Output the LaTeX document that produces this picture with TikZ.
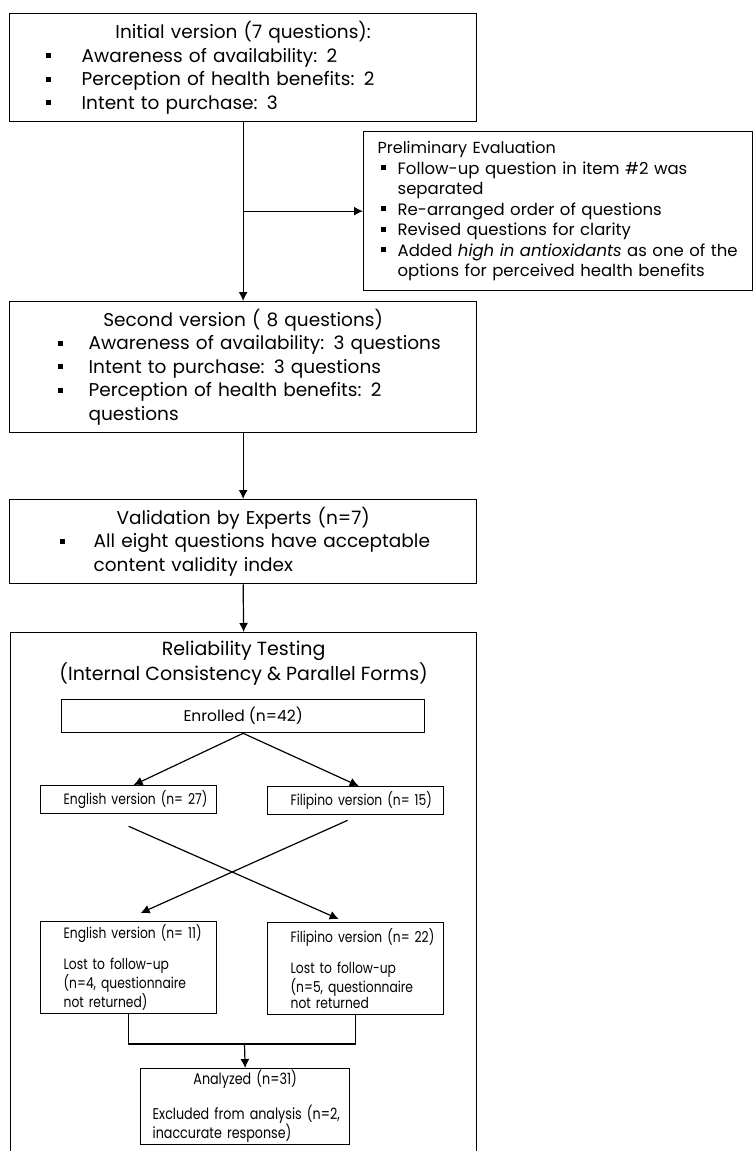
\documentclass[tikz,border=0pt]{standalone}
\usepackage{fontspec}
\setmainfont{Poppins}
\newfontfamily\narrowfont[FakeStretch=0.82]{Poppins}
\usetikzlibrary{arrows.meta}
\usetikzlibrary{positioning}

\newcommand{\sqb}{\rule[0.22em]{5pt}{5pt}}
\newcommand{\bul}[2]{\hspace*{#1}\makebox[#2][l]{\sqb}}

\begin{document}
\begin{tikzpicture}[%
      x=1pt, y=-1pt,
      every node/.style={inner sep=0pt},
      box/.style={draw, line width=1.3pt, rectangle, anchor=north west, align=left},
      mainbox/.style={box, text width=467pt, minimum width=467pt,
        font=\fontsize{18.5}{23.5}\selectfont},
      subbox/.style={box, text width=176pt, minimum width=176pt,
        font=\narrowfont\fontsize{15}{16}\selectfont},
      line width=1.2pt, >={Latex[length=9pt,width=9pt]}
    ]
    \useasboundingbox (0,0) rectangle (753,1151);

    % questionnaire versions
    \node [mainbox, minimum height=108pt] (init) at (9,13) {%
      \makebox[\hsize]{Initial version (7 questions):}\\
      \bul{36pt}{36pt}Awareness of availability: 2\\
      \bul{36pt}{36pt}Perception of health benefits: 2\\
      \bul{36pt}{36pt}Intent to purchase: 3};
    \node [box, text width=389pt, minimum width=389pt, minimum height=159pt,
      font=\fontsize{16.5}{20.5}\selectfont] (prelim) at (363,131) {%
      \hspace*{14pt}{\fontsize{16}{20.5}\selectfont Preliminary Evaluation}\\
      \bul{17pt}{17pt}Follow-up question in item \#2 was\\
      \hspace*{34pt}separated\\
      \bul{17pt}{17pt}Re-arranged order of questions\\
      \bul{17pt}{17pt}Revised questions for clarity\\
      \bul{17pt}{17pt}Added \textit{high in antioxidants} as one of the\\
      \hspace*{34pt}options for perceived health benefits};
    \node [mainbox, minimum height=131pt] (second) at (9,301) {%
      \makebox[\hsize]{Second version ( 8 questions)}\\
      \bul{48pt}{31pt}Awareness of availability: 3 questions\\
      \bul{48pt}{31pt}Intent to purchase: 3 questions\\
      \bul{48pt}{31pt}Perception of health benefits: 2\\
      \hspace*{79pt}questions};
    \node [mainbox, minimum height=84pt] (valid) at (9,499) {%
      \makebox[\hsize]{Validation by Experts (n=7)}\\
      \bul{50pt}{34pt}All eight questions have acceptable\\
      \hspace*{84pt}content validity index};

    % reliability testing
    \node [box, minimum width=466pt, minimum height=540pt] (rel) at (10,632) {};
    \node [align=center, font=\fontsize{19}{25.5}\selectfont, below=8pt of rel.north]
      (reltitle) {Reliability Testing\\(Internal Consistency \& Parallel Forms)};
    \node [box, minimum width=363pt, minimum height=33pt, align=center,
      font=\fontsize{15.5}{16}\selectfont] (enrol) at (61,699) {Enrolled (n=42)};
    \node [subbox, minimum height=28pt] (eng27) at (40,785)
      {\hspace*{23pt}English version (n= 27)};
    \node [subbox, minimum height=28pt] (fil15) at (267,786)
      {\hspace*{23pt}Filipino version (n= 15)};
    \node [subbox, minimum height=92pt] (eng11) at (40,921) {%
      \hspace*{23pt}English version (n= 11)\\[15pt]
      \hspace*{23pt}Lost to follow-up\\
      \hspace*{23pt}(n=4, questionnaire\\
      \hspace*{23pt}not returned)};
    \node [subbox, minimum height=92pt] (fil22) at (267,922) {%
      \hspace*{23pt}Filipino version (n= 22)\\[15pt]
      \hspace*{23pt}Lost to follow-up\\
      \hspace*{23pt}(n=5, questionnaire\\
      \hspace*{23pt}not returned};
    \node [box, text width=209pt, minimum width=209pt, minimum height=76pt,
      font=\narrowfont\fontsize{15.5}{16}\selectfont] (anl) at (140,1068) {%
      \makebox[\hsize]{Analyzed (n=31)}\\[15pt]
      \hspace*{12pt}Excluded from analysis (n=2,\\
      \hspace*{12pt}inaccurate response)};
    \coordinate (mrg) at (244.5,1044);

    % connectors
    \draw [->] (init.south) -- (second.north);
    \draw [->] (init.south |- prelim.west) -- (prelim.west);
    \draw [->] (second.south) -- (valid.north);
    \draw [->] (valid.south) -- (rel.north);
    \draw [->] (enrol.south) -- ([xshift=5pt]eng27.north);
    \draw [->] (enrol.south) -- ([xshift=3pt]fil15.north);
    \draw [->] ([yshift=-12pt]eng27.south) -- ([xshift=-17pt,yshift=3pt]fil22.north);
    \draw [->] ([xshift=-8pt,yshift=-5pt]fil15.south) -- ([xshift=12pt,yshift=8pt]eng11.north);
    \draw (eng11.south) -- (eng11.south |- mrg) -- (fil22.south |- mrg) -- (fil22.south);
    \draw [->] (mrg) -- (anl.north);
  \end{tikzpicture}
\end{document}
